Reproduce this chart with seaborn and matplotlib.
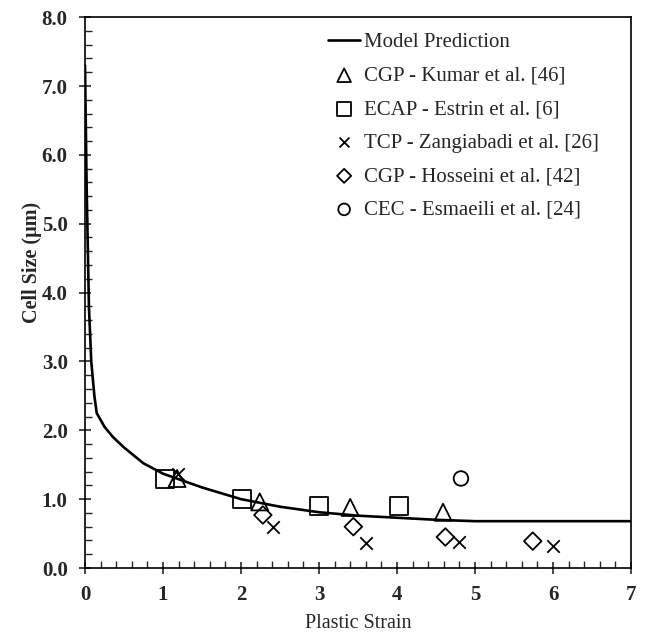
import numpy as np
import pandas as pd
import matplotlib
matplotlib.use("Agg")
import matplotlib.pyplot as plt
import seaborn as sns
from matplotlib.ticker import MultipleLocator, FormatStrFormatter

# Model prediction curve
model_x = [0.0, 0.02, 0.05, 0.08, 0.12, 0.15, 0.25, 0.36, 0.5, 0.75, 1.0, 1.25, 1.5,
           2.0, 2.5, 3.0, 3.5, 4.0, 4.5, 5.0, 7.0]
model_y = [7.3, 5.6, 3.8, 3.0, 2.5, 2.25, 2.05, 1.9, 1.75, 1.52, 1.37, 1.27, 1.17,
           1.0, 0.89, 0.81, 0.76, 0.73, 0.70, 0.68, 0.68]

kumar_x = [1.18, 2.24, 3.40, 4.59]
kumar_y = [1.30, 0.96, 0.88, 0.81]

estrin_x = [1.03, 2.01, 3.00, 4.03]
estrin_y = [1.29, 1.00, 0.90, 0.90]

zang_x = [1.19, 2.41, 3.60, 4.80, 6.00]
zang_y = [1.37, 0.59, 0.37, 0.38, 0.32]

hoss_x = [2.28, 3.44, 4.62, 5.74]
hoss_y = [0.77, 0.60, 0.45, 0.39]

esm_x = [4.82]
esm_y = [1.30]

labels = ["Model Prediction",
          "CGP - Kumar et al. [46]",
          "ECAP - Estrin et al. [6]",
          "TCP - Zangiabadi et al. [26]",
          "CGP - Hosseini et al. [42]",
          "CEC - Esmaeili et al. [24]"]

sns.set_style("ticks")
plt.rcParams['font.family'] = ['Liberation Serif', 'DejaVu Serif']

fig = plt.figure(figsize=(6.46, 6.35), dpi=100)
ax = fig.add_axes([0.1316, 0.1055, 0.9768 - 0.1316, 0.973 - 0.1055])

sns.lineplot(x=model_x, y=model_y, ax=ax, color='black', linewidth=1.9,
             label=labels[0], sort=False)

series = [(kumar_x, kumar_y, '^', 150, labels[1]),
          (estrin_x, estrin_y, 's', 170, labels[2]),
          (zang_x, zang_y, 'x', 80, labels[3]),
          (hoss_x, hoss_y, 'D', 80, labels[4]),
          (esm_x, esm_y, 'o', 110, labels[5])]
for xs, ys, mk, s, lab in series:
    if mk == 'x':
        sns.scatterplot(x=xs, y=ys, ax=ax, marker=mk, s=s, color='black',
                        linewidth=1.3, label=lab, zorder=3)
    else:
        sns.scatterplot(x=xs, y=ys, ax=ax, marker=mk, s=s, facecolor='none',
                        edgecolor='black', linewidth=1.3, label=lab, zorder=3)

ax.set_xlim(0, 7)
ax.set_ylim(0, 8)
ax.xaxis.set_major_locator(MultipleLocator(1))
ax.xaxis.set_minor_locator(MultipleLocator(0.2))
ax.yaxis.set_major_locator(MultipleLocator(1))
ax.yaxis.set_minor_locator(MultipleLocator(0.2))
ax.yaxis.set_major_formatter(FormatStrFormatter('%.1f'))
ax.xaxis.set_major_formatter(FormatStrFormatter('%d'))

ax.tick_params(which='major', direction='inout', length=9, width=1.2,
               labelsize=15, top=False, right=False)
ax.tick_params(axis='x', which='major', pad=8)
ax.tick_params(axis='y', which='major', pad=8)
ax.tick_params(which='minor', direction='in', length=5, width=1.0,
               top=False, right=False)
for lbl in ax.get_xticklabels() + ax.get_yticklabels():
    lbl.set_fontweight('bold')

for sp in ax.spines.values():
    sp.set_visible(True)
    sp.set_linewidth(1.2)
    sp.set_color('black')

ax.set_xlabel("Plastic Strain", fontsize=14.5, labelpad=6)
ax.set_ylabel("Cell Size (μm)", fontsize=14.5, fontweight='bold', labelpad=6)
ax.yaxis.set_label_coords(-0.079, 0.555)

leg = ax.legend(loc='upper left', frameon=False, fontsize=15,
                bbox_to_anchor=(0.445, 0.972), labelspacing=0.67,
                handlelength=1.55, handletextpad=0.2, markerscale=0.8,
                borderaxespad=0.0, borderpad=0.0)

fig.savefig("out.png", dpi=100)
